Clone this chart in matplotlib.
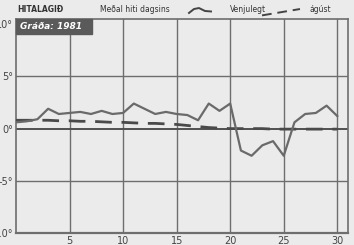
import matplotlib.pyplot as plt
from matplotlib.lines import Line2D
from matplotlib.patches import Rectangle

# Daily mean temperature in August (day index 0..30)
days = list(range(0, 31))
mean_temp = [0.6, 0.7, 0.9, 1.9, 1.4, 1.5, 1.6, 1.4, 1.7, 1.4,
             1.5, 2.4, 1.9, 1.4, 1.6, 1.4, 1.3, 0.8, 2.4, 1.7,
             2.4, -2.1, -2.6, -1.6, -1.2, -2.6, 0.6, 1.4, 1.5, 2.2, 1.2]
# Normal for August
normal_temp = [0.8, 0.8, 0.8, 0.8, 0.75, 0.75, 0.7, 0.7, 0.65, 0.6,
               0.6, 0.55, 0.5, 0.5, 0.45, 0.4, 0.3, 0.2, 0.1, 0.05,
               0.0, 0.0, 0.0, 0.0, -0.05, -0.05, -0.05, -0.05, -0.05, -0.05, -0.05]

yticks = [10, 5, 0, -5, -10]
ytick_labels = ['10°', '5°', '0°', '-5°', '-10°']
xticks = [5, 10, 15, 20, 25, 30]

bg = '#ebebeb'
ink = '#555555'

fig = plt.figure(figsize=(3.54, 2.45), dpi=100, facecolor=bg)
ax = fig.add_axes([16 / 354, 12 / 245, 332 / 354, 214 / 245], facecolor=bg)

ax.plot(days, mean_temp, color='#6a6a6a', linewidth=1.6, zorder=4)
ax.plot(days, normal_temp, color='#4a4a4a', linewidth=2.0,
        dashes=(6, 3.5), zorder=3)

ax.set_xlim(0, 31)
ax.set_ylim(-10, 10.5)
ax.set_xticks(xticks)
ax.set_yticks(yticks)
ax.set_yticklabels(ytick_labels)
ax.tick_params(length=0, labelsize=7, colors='#444444', pad=2)
for v in xticks:
    ax.axvline(v, color='#6e6e6e', linewidth=1.0, zorder=1)
for v in [5, -5]:
    ax.axhline(v, color='#6e6e6e', linewidth=1.0, zorder=1)
ax.axhline(0, color='#505050', linewidth=1.4, zorder=2)
for s in ax.spines.values():
    s.set_color('#6e6e6e')
    s.set_linewidth(1.2)
ax.spines['bottom'].set_linewidth(1.6)

# header label inside the plot
ax.add_patch(Rectangle((0, 9.1), 7.1, 1.4, color='#5a5a5a', zorder=5, clip_on=False))
ax.text(0.4, 9.75, 'Gráða: 1981', fontsize=6.5, color='white', style='italic',
        fontweight='bold', va='center', ha='left', zorder=6)

# top legend
ty = 1 - 10 / 245
fig.text(17 / 354, ty, 'HITALAGIÐ', fontsize=5.5, color='#333333', va='center',
         fontweight='bold')
fig.text(100 / 354, ty, 'Meðal hiti dagsins', fontsize=5.5, color='#333333', va='center')
fig.add_artist(Line2D([189 / 354, 194 / 354, 199 / 354, 205 / 354, 211 / 354],
                      [ty - 0.012, ty + 0.004, ty + 0.008, ty - 0.004, ty - 0.006],
                      color='#444444', linewidth=1.4))
fig.text(230 / 354, ty, 'Venjulegt', fontsize=5.5, color='#333333', va='center')
fig.add_artist(Line2D([262 / 354, 300 / 354], [ty - 0.022, ty + 0.004],
                      color='#444444', linewidth=1.4, dashes=(5, 3)))
fig.text(310 / 354, ty, 'ágúst', fontsize=5.5, color='#333333', va='center')

fig.savefig('out.png', dpi=100, facecolor=bg)
